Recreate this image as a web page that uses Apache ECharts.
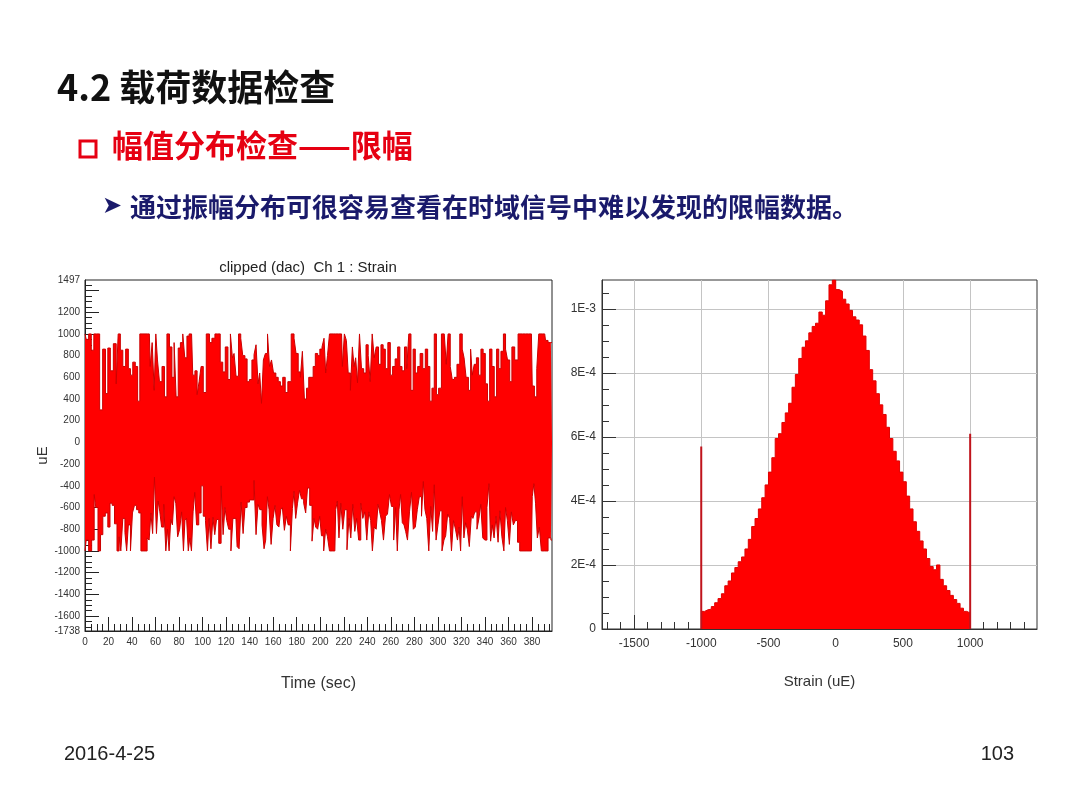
<!DOCTYPE html>
<html>
<head>
<meta charset="utf-8">
<script src="https://cdn.jsdelivr.net/npm/echarts@6/dist/echarts.min.js"></script>
<style>
html,body{margin:0;padding:0;background:#fff;}
#c{width:1080px;height:810px;}
</style>
</head>
<body>
<div id="c"></div>
<script>
// ---------- texts ----------
var pageTitle = '4.2 载荷数据检查';
var sectionTitle = '幅值分布检查——限幅';
var bulletText = '通过振幅分布可很容易查看在时域信号中难以发现的限幅数据。';
var footerDate = '2016-4-25';
var footerPage = '103';
var leftTitle = 'clipped (dac)  Ch 1 : Strain';

// ---------- left chart: time history envelope [time (sec), uE] ----------
var upperEnvelope = [[0,1000],[2,950],[4.2,1000],[6.5,850],[8.5,1000],[11.3,1000],[13.6,300],[16.4,860],[18.4,450],[20.4,870],[22.7,660],[25.5,910],[27.5,540],[28.9,1000],[31.2,850],[33.1,700],[36,860],[37.7,680],[39.6,620],[41.6,740],[43.9,700],[45.6,380],[47.6,1000],[51,1000],[54.7,1000],[56.1,700],[58.1,920],[59.5,480],[60.9,1000],[62.3,760],[64.3,560],[66.6,700],[68.5,420],[70.8,1000],[72.8,880],[75,600],[76.5,920],[78.4,420],[80.1,870],[82.1,920],[84.1,1000],[85.5,780],[87.8,980],[89.2,1000],[90.6,1000],[92.6,620],[94.3,660],[96.3,440],[97.7,560],[99.7,700],[101.4,460],[104.8,1000],[106.8,920],[109,960],[111.9,1000],[113.8,1000],[116.1,740],[118.1,650],[120.4,880],[122.6,580],[124.6,1000],[126,780],[127.4,820],[129.4,610],[131.7,1000],[133.1,960],[135.1,800],[136.8,770],[138.8,560],[140.8,580],[143,760],[144.4,810],[146.4,900],[147.8,540],[149.2,640],[150.9,360],[152.4,760],[154.3,820],[156,1000],[157.7,700],[159.4,760],[161.1,640],[163.4,600],[165.1,560],[167.1,520],[169.1,600],[171.3,460],[173.6,560],[177,1000],[178.4,960],[180.4,820],[182.1,650],[184.1,600],[185.5,840],[187.5,400],[189.2,500],[191.2,600],[193.1,600],[194.8,700],[196.8,820],[198.8,800],[200.5,860],[202.5,880],[203.9,960],[205.3,640],[207,800],[208.7,1000],[213.2,1000],[218.1,1000],[219.5,700],[221.5,1000],[222.9,940],[224.6,640],[226.6,480],[228,880],[229.4,700],[230.8,780],[232.5,550],[234.2,1000],[235.9,680],[237.9,640],[239.9,900],[241.6,800],[243.3,560],[245,1000],[246.7,780],[248.4,880],[250.6,720],[252.6,900],[254.3,860],[256.3,680],[258.6,920],[260.5,620],[262.5,700],[264.8,770],[266.8,880],[268.5,700],[270.5,660],[272.7,880],[274.4,680],[276.1,1000],[278.1,480],[279.8,860],[281.8,640],[283.8,700],[286,820],[288.3,680],[290.3,860],[292.3,700],[294,380],[295.9,500],[297.9,1000],[299.6,440],[301.6,500],[304.4,1000],[306.4,1000],[307.8,720],[309.5,1000],[311.5,700],[312.9,580],[315.2,600],[317.2,720],[320,1000],[321.4,860],[323.1,780],[324.8,600],[327.1,480],[328.5,860],[329.9,620],[331.9,720],[333.6,780],[335.6,620],[337.6,860],[339.3,820],[341.3,540],[343,380],[345,860],[346.9,700],[348.9,420],[350.9,860],[352.6,680],[354.6,840],[356.8,1000],[358.2,860],[360.2,760],[361.9,560],[363.9,880],[366.7,760],[369.6,1000],[374.4,1000],[379.5,1000],[380.9,520],[383.2,420],[384.9,680],[386.6,1000],[390.8,1000],[392.2,940],[395.1,920],[397,920]];

var lowerEnvelope = [[0,-1000],[2,-900],[4.2,-1000],[7.1,-900],[8.5,-480],[9.9,-600],[12.2,-1000],[14.2,-850],[16.1,-680],[18.4,-650],[20.4,-780],[22.1,-560],[24.1,-580],[26.1,-750],[28.3,-1000],[29.7,-870],[31.2,-1000],[33.1,-700],[34.8,-830],[36,-1000],[37.7,-760],[39.6,-1000],[41.1,-650],[43,-580],[44.7,-620],[46.7,-650],[48.4,-1000],[51.8,-1000],[53.8,-880],[55.2,-900],[56.9,-650],[58.1,-840],[60,-320],[61.5,-840],[62.9,-540],[64.3,-640],[66,-780],[68,-570],[69.4,-1000],[70.8,-800],[72.2,-1000],[73.6,-710],[75,-760],[76.5,-500],[77.9,-560],[79.6,-870],[81.3,-800],[83,-640],[84.4,-1000],[85.5,-720],[87.2,-700],[88.4,-1000],[89.8,-880],[91.2,-1000],[92.6,-640],[94,-460],[95.7,-760],[97.7,-650],[99.7,-400],[101.4,-680],[103.4,-720],[104.8,-1000],[106.2,-700],[107.9,-980],[109.6,-690],[111,-850],[112.7,-710],[114.7,-930],[116.7,-400],[118.1,-850],[119.8,-600],[121.2,-720],[123.2,-800],[124.9,-1000],[126.6,-700],[128.3,-700],[130.3,-960],[131.7,-980],[133.7,-550],[135.1,-840],[136.8,-600],[138.8,-550],[140.8,-530],[143,-530],[144.4,-350],[146.4,-850],[147.8,-570],[149.5,-620],[151.5,-760],[152.9,-980],[154.3,-900],[155.8,-500],[157.2,-620],[159.2,-940],[160.6,-700],[162.3,-580],[164,-760],[165.7,-780],[167.1,-620],[168.5,-600],[170.5,-810],[171.9,-680],[173.6,-760],[175.6,-1000],[177,-610],[178.4,-450],[179.8,-700],[181.5,-560],[183.2,-440],[184.9,-520],[186.9,-560],[188.3,-650],[190,-420],[192,-580],[194,-910],[195.4,-700],[196.8,-780],[198.8,-800],[200.2,-680],[201.9,-860],[203.9,-1000],[205.3,-800],[207,-870],[208.7,-1000],[212.4,-1000],[213.8,-620],[215.2,-540],[216.6,-880],[218.3,-560],[220,-800],[221.7,-620],[223.7,-990],[225.1,-700],[226.8,-880],[228.5,-570],[230.2,-820],[231.7,-700],[233.6,-900],[235.3,-560],[237,-700],[238.7,-640],[240.4,-900],[242.1,-640],[243.6,-720],[245,-1000],[246.7,-780],[248.4,-800],[249.8,-570],[251.2,-640],[252.9,-720],[254.6,-900],[256.3,-680],[258,-660],[259.7,-480],[261.4,-590],[263.4,-900],[264.8,-600],[266.2,-1000],[267.6,-620],[269,-480],[270.5,-740],[271.9,-760],[273.3,-820],[275,-900],[276.7,-640],[278.4,-460],[279.8,-800],[281.8,-780],[283.2,-620],[285.2,-500],[286.9,-680],[288.3,-360],[289.7,-620],[291.4,-700],[293.1,-1000],[294.8,-590],[296.2,-820],[297.6,-390],[299.3,-900],[300.8,-760],[302.5,-630],[304.4,-1000],[305.9,-900],[307.3,-860],[309.3,-660],[310.7,-700],[312.4,-1000],[314.1,-720],[315.8,-800],[317.5,-900],[318.6,-780],[320,-1000],[321.4,-500],[322.8,-880],[324.3,-740],[325.7,-800],[327.7,-960],[329.1,-680],[330.5,-700],[332.2,-640],[334.2,-800],[335.6,-700],[337.3,-570],[339,-880],[340.7,-900],[342.7,-600],[344.1,-380],[345.5,-910],[346.9,-760],[348.6,-880],[350.3,-680],[352,-920],[353.4,-630],[355.4,-870],[356.8,-1000],[358.2,-600],[359.9,-720],[361.6,-940],[363.3,-640],[365,-760],[366.7,-720],[368.7,-920],[370.4,-1000],[379.5,-1000],[380.9,-500],[382.3,-380],[383.7,-560],[385.4,-880],[387.1,-780],[388.8,-1000],[392.2,-1000],[395.1,-880],[397,-900]];

var timeMin = 0, timeMax = 397;
var uEMin = -1738, uEMax = 1497;
var leftYLabels = [1497, 1200, 1000, 800, 600, 400, 200, 0, -200, -400, -600, -800, -1000, -1200, -1400, -1600, -1738];
var leftYMajor = [1400, 1200, 1000, 800, 600, 400, 200, 0, -200, -400, -600, -800, -1000, -1200, -1400, -1600];
var leftXMajor = [0,20,40,60,80,100,120,140,160,180,200,220,240,260,280,300,320,340,360,380];

// ---------- right chart: amplitude distribution ----------
var strainBinStart = [-1000,-975,-950,-925,-900,-875,-850,-825,-800,-775,-750,-725,-700,-675,-650,-625,-600,-575,-550,-525,-500,-475,-450,-425,-400,-375,-350,-325,-300,-275,-250,-225,-200,-175,-150,-125,-100,-75,-50,-25,0,25,50,75,100,125,150,175,200,225,250,275,300,325,350,375,400,425,450,475,500,525,550,575,600,625,650,675,700,725,750,775,800,825,850,875,900,925,950,975];
var density = [0.55e-4,0.6e-4,0.62e-4,0.7e-4,0.82e-4,0.95e-4,1.1e-4,1.35e-4,1.5e-4,1.75e-4,1.92e-4,2.1e-4,2.25e-4,2.5e-4,2.8e-4,3.2e-4,3.45e-4,3.75e-4,4.1e-4,4.5e-4,4.9e-4,5.35e-4,5.95e-4,6.1e-4,6.45e-4,6.75e-4,7.05e-4,7.55e-4,7.95e-4,8.45e-4,8.8e-4,9.0e-4,9.25e-4,9.45e-4,9.55e-4,9.9e-4,9.8e-4,10.25e-4,10.75e-4,10.9e-4,10.6e-4,10.55e-4,10.3e-4,10.15e-4,9.95e-4,9.75e-4,9.65e-4,9.5e-4,9.15e-4,8.7e-4,8.1e-4,7.75e-4,7.35e-4,7.0e-4,6.7e-4,6.3e-4,5.95e-4,5.55e-4,5.25e-4,4.9e-4,4.6e-4,4.15e-4,3.75e-4,3.35e-4,3.05e-4,2.75e-4,2.5e-4,2.2e-4,1.95e-4,1.85e-4,2.0e-4,1.55e-4,1.35e-4,1.2e-4,1.05e-4,0.92e-4,0.8e-4,0.65e-4,0.55e-4,0.5e-4];
var binEnd = 1000;
var clipLevels = [-1000, 1000];
var clipDensity = [5.7e-4, 6.1e-4];

var strainMin = -1738, strainMax = 1497;
var densMin = 0, densMax = 1.09e-3;
var rightXMajor = [-1500, -1000, -500, 0, 500, 1000];
var rightYMajor = [0, 2e-4, 4e-4, 6e-4, 8e-4, 1e-3];

// ---------- build ----------
function minorList(from, to, step, majors) {
  var out = [];
  var n = Math.round((to - from) / step);
  for (var k = 0; k <= n; k++) {
    var r = from + k * step;
    var isMajor = majors.some(function (m) { return Math.abs(m - r) < step / 10; });
    if (!isMajor) out.push(r);
  }
  return out;
}
var leftXMinor = minorList(0, 395, 5, leftXMajor);
var leftYMinor = minorList(-1700, 1450, 50, leftYMajor);
var rightXMinor = minorList(-1700, 1400, 100, rightXMajor);
var rightYMinor = minorList(5e-5, 1.05e-3, 5e-5, rightYMajor);

var histData = strainBinStart.map(function (x, i) { return [x, density[i]]; });
histData.push([binEnd, density[density.length - 1]]);
var spikeData = [];
clipLevels.forEach(function (x, i) {
  if (i > 0) spikeData.push('-');
  spikeData.push([x, 0]);
  spikeData.push([x, clipDensity[i]]);
});

var LAT = 'Liberation Sans, Arial, sans-serif';
var CJK = '"Noto Sans CJK SC", sans-serif';
var RED = '#ff0000';
function plain(v) { return String(Math.round(v)); }

var option = {
  backgroundColor: '#ffffff',
  animation: false,
  grid: [
    { left: 85, top: 280, width: 467, height: 351, show: true, borderColor: '#222', borderWidth: 1, backgroundColor: '#fff' },
    { left: 602, top: 280, width: 435, height: 349, show: true, borderColor: '#333', borderWidth: 1, backgroundColor: '#fff' }
  ],
  xAxis: [
    { type: 'value', gridIndex: 0, min: timeMin, max: timeMax, position: 'bottom',
      name: 'Time (sec)', nameLocation: 'middle', nameGap: 45,
      nameTextStyle: { fontFamily: LAT, fontSize: 16, color: '#333' },
      axisLine: { show: true, onZero: false, lineStyle: { color: '#222' } },
      axisTick: { show: true, inside: true, length: 14, customValues: leftXMajor, lineStyle: { color: '#222' } },
      axisLabel: { show: true, customValues: leftXMajor, formatter: plain, fontFamily: LAT, fontSize: 10, color: '#333', margin: 6 },
      splitLine: { show: false } },
    { type: 'value', gridIndex: 0, min: timeMin, max: timeMax, position: 'bottom',
      axisLine: { show: false, onZero: false },
      axisTick: { show: true, inside: true, length: 7, customValues: leftXMinor, lineStyle: { color: '#222' } },
      axisLabel: { show: false }, splitLine: { show: false } },
    { type: 'value', gridIndex: 1, min: strainMin, max: strainMax, position: 'bottom',
      name: 'Strain (uE)', nameLocation: 'middle', nameGap: 45,
      nameTextStyle: { fontFamily: LAT, fontSize: 15, color: '#333' },
      axisLine: { show: true, onZero: false, lineStyle: { color: '#333' } },
      axisTick: { show: true, inside: true, length: 14, customValues: rightXMajor, lineStyle: { color: '#333' } },
      axisLabel: { show: true, customValues: rightXMajor, formatter: plain, fontFamily: LAT, fontSize: 12, color: '#333', margin: 9 },
      splitLine: { show: true, lineStyle: { color: '#c4c4c4', width: 1 } } },
    { type: 'value', gridIndex: 1, min: strainMin, max: strainMax, position: 'bottom',
      axisLine: { show: false, onZero: false },
      axisTick: { show: true, inside: true, length: 7, customValues: rightXMinor, lineStyle: { color: '#333' } },
      axisLabel: { show: false }, splitLine: { show: false } }
  ],
  yAxis: [
    { type: 'value', gridIndex: 0, min: uEMin, max: uEMax, position: 'left',
      name: 'uE', nameLocation: 'middle', nameGap: 24,
      nameTextStyle: { fontFamily: LAT, fontSize: 15, color: '#333' },
      axisLine: { show: true, onZero: false, lineStyle: { color: '#222' } },
      axisTick: { show: true, inside: true, length: 14, customValues: leftYMajor, lineStyle: { color: '#222' } },
      axisLabel: { show: true, customValues: leftYLabels, formatter: plain, fontFamily: LAT, fontSize: 10, color: '#333', margin: 5 },
      splitLine: { show: false } },
    { type: 'value', gridIndex: 0, min: uEMin, max: uEMax, position: 'left',
      axisLine: { show: false, onZero: false },
      axisTick: { show: true, inside: true, length: 7, customValues: leftYMinor, lineStyle: { color: '#222' } },
      axisLabel: { show: false }, splitLine: { show: false } },
    { type: 'value', gridIndex: 1, min: densMin, max: densMax, position: 'left',
      axisLine: { show: true, onZero: false, lineStyle: { color: '#333' } },
      axisTick: { show: true, inside: true, length: 14, customValues: rightYMajor, lineStyle: { color: '#333' } },
      axisLabel: { show: true, customValues: rightYMajor, fontFamily: LAT, fontSize: 12, color: '#333', margin: 6,
        formatter: function (v) { return v === 0 ? '0' : v.toExponential(0).toUpperCase(); } },
      splitLine: { show: true, lineStyle: { color: '#c4c4c4', width: 1 } } },
    { type: 'value', gridIndex: 1, min: densMin, max: densMax, position: 'left',
      axisLine: { show: false, onZero: false },
      axisTick: { show: true, inside: true, length: 7, customValues: rightYMinor, lineStyle: { color: '#333' } },
      axisLabel: { show: false }, splitLine: { show: false } }
  ],
  series: [
    { type: 'line', name: 'upper', xAxisIndex: 0, yAxisIndex: 0, data: upperEnvelope, step: 'middle',
      showSymbol: false, symbol: 'none', clip: true,
      lineStyle: { color: '#cc0000', width: 1 }, areaStyle: { color: RED, opacity: 1, origin: 'auto' }, z: 2,
      markLine: { silent: true, symbol: 'none', label: { show: false },
        lineStyle: { color: RED, width: 3, type: 'solid' }, data: [{ yAxis: 0 }] } },
    { type: 'line', name: 'lower', xAxisIndex: 0, yAxisIndex: 0, data: lowerEnvelope, step: 'middle',
      showSymbol: false, symbol: 'none', clip: true,
      lineStyle: { color: '#cc0000', width: 1 }, areaStyle: { color: RED, opacity: 1, origin: 'auto' }, z: 2 },
    { type: 'line', name: 'density', xAxisIndex: 2, yAxisIndex: 2, data: histData, step: 'end',
      showSymbol: false, symbol: 'none',
      lineStyle: { color: '#e00000', width: 1 }, areaStyle: { color: RED, opacity: 1, origin: 'start' }, z: 2 },
    { type: 'line', name: 'clipped', xAxisIndex: 2, yAxisIndex: 2, data: spikeData, connectNulls: false,
      showSymbol: false, symbol: 'none',
      lineStyle: { color: '#c0141c', width: 2 }, z: 3 }
  ],
  graphic: [
    { type: 'text', left: 57, top: 69, style: { text: pageTitle, font: 'bold 36px ' + CJK, fill: '#111' } },
    { type: 'rect', shape: { x: 80, y: 141, width: 16, height: 16 }, style: { fill: 'none', stroke: '#e60012', lineWidth: 3 } },
    { type: 'text', left: 112, top: 130, style: { text: sectionTitle, font: 'bold 31px ' + CJK, fill: '#e60012' } },
    { type: 'text', left: 102, top: 195, style: { text: '➤', font: '24px "DejaVu Sans", sans-serif', fill: '#1a1a6b' } },
    { type: 'text', left: 130, top: 194, style: { text: bulletText, font: 'bold 26px ' + CJK, fill: '#1a1a6b' } },
    { type: 'text', left: 64, top: 744, style: { text: footerDate, font: '20px ' + LAT, fill: '#222' } },
    { type: 'text', right: 66, top: 744, style: { text: footerPage, font: '20px ' + LAT, fill: '#222' } },
    { type: 'text', x: 308, y: 268, style: { text: leftTitle, font: '15px ' + LAT, fill: '#222', align: 'center', verticalAlign: 'middle', textAlign: 'center', textVerticalAlign: 'middle' } }
  ]
};

var chart = echarts.init(document.getElementById('c'), null, { renderer: 'canvas' });
chart.setOption(option);
</script>
</body>
</html>
